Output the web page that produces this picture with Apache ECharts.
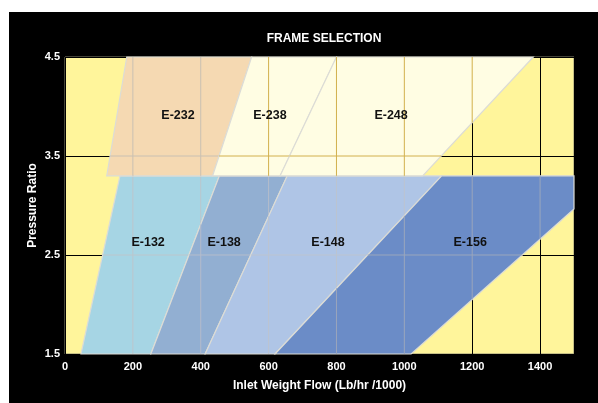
<!DOCTYPE html>
<html>
<head>
<meta charset="utf-8">
<script src="https://cdn.jsdelivr.net/npm/echarts@6/dist/echarts.min.js"></script>
<style>
html,body{margin:0;padding:0;background:#fff;width:598px;height:403px;overflow:hidden;}
#chart{position:absolute;left:9px;top:12px;width:589px;height:391px;}
</style>
</head>
<body>
<div id="chart"></div>
<script>
// ---- data ----
const frameNames = ['E-132', 'E-138', 'E-148', 'E-156', 'E-232', 'E-238', 'E-248'];
const e132 = [[47, 1.5], [253, 1.5], [455, 3.3], [162, 3.3]];
const e138 = [[253, 1.5], [413, 1.5], [655, 3.3], [455, 3.3]];
const e148 = [[413, 1.5], [619, 1.5], [1110, 3.3], [655, 3.3]];
const e156 = [[619, 1.5], [1020, 1.5], [1500, 2.965], [1500, 3.3], [1110, 3.3]];
const e232 = [[123, 3.3], [435, 3.3], [550, 4.5], [182, 4.5]];
const e238 = [[435, 3.3], [634, 3.3], [800, 4.5], [550, 4.5]];
const e248 = [[634, 3.3], [1054, 3.3], [1380, 4.5], [800, 4.5]];
const framePolys = [e132, e138, e148, e156, e232, e238, e248];
const labelX = [245, 469, 775, 1194, 333, 604, 961];
const labelY = [2.63, 2.63, 2.63, 2.63, 3.91, 3.91, 3.91];
const xGrid = [200, 400, 600, 800, 1000, 1200, 1400];
const yGrid = [2.5, 3.5];

// ---- styles ----
const fillColors = ['#A6D5E4', '#92AFD2', '#AFC5E6', '#6B8CC7', '#F5D9B2', '#FFFDE3', '#FFFDE3'];
const innerGridColors = ['#bcc6cc', '#b4bccb', '#bcc4d0', '#9aa6bc', '#c9c0b2', '#d2b04c', '#d2b04c'];

function segVertical(poly, c) {
  const ys = [];
  for (let i = 0; i < poly.length; i++) {
    const p = poly[i], q = poly[(i + 1) % poly.length];
    if (p[0] === q[0]) continue;
    if ((p[0] - c) * (q[0] - c) <= 0) {
      ys.push(p[1] + (c - p[0]) * (q[1] - p[1]) / (q[0] - p[0]));
    }
  }
  if (ys.length < 2) return null;
  const a = Math.min.apply(null, ys), b = Math.max.apply(null, ys);
  if (b - a < 1e-9) return null;
  return [[c, a], [c, b]];
}
function segHorizontal(poly, c) {
  const xs = [];
  for (let i = 0; i < poly.length; i++) {
    const p = poly[i], q = poly[(i + 1) % poly.length];
    if (p[1] === q[1]) continue;
    if ((p[1] - c) * (q[1] - c) <= 0) {
      xs.push(p[0] + (c - p[1]) * (q[0] - p[0]) / (q[1] - p[1]));
    }
  }
  if (xs.length < 2) return null;
  const a = Math.min.apply(null, xs), b = Math.max.apply(null, xs);
  if (b - a < 1e-9) return null;
  return [[a, c], [b, c]];
}

const chart = echarts.init(document.getElementById('chart'));
const lab = {color: '#fff', fontFamily: 'Arial, Liberation Sans', fontWeight: 'bold', fontSize: 11};
const nameStyle = {color: '#fff', fontFamily: 'Arial, Liberation Sans', fontWeight: 'bold', fontSize: 12};

chart.setOption({
  backgroundColor: '#000',
  animation: false,
  title: {
    text: 'FRAME SELECTION', left: 310, top: 16, textAlign: 'center',
    textStyle: nameStyle
  },
  grid: {
    left: 56, right: 24, top: 45, bottom: 49,
    show: true, backgroundColor: '#FFF59B', borderColor: '#8a8870', borderWidth: 1
  },
  xAxis: {
    type: 'value', min: 0, max: 1500, interval: 200,
    axisLine: {show: false}, axisTick: {show: false},
    axisLabel: Object.assign({margin: 7, showMaxLabel: false, formatter: function (v) { return String(v); }}, lab),
    splitLine: {show: true, lineStyle: {color: '#000', width: 1}},
    name: 'Inlet Weight Flow (Lb/hr /1000)', nameLocation: 'middle', nameGap: 26,
    nameTextStyle: nameStyle
  },
  yAxis: {
    type: 'value', min: 1.5, max: 4.5, interval: 0.5,
    axisLine: {show: false}, axisTick: {show: false},
    axisLabel: Object.assign({
      margin: 5,
      formatter: function (v) { return Math.abs((v * 2) % 2 - 1) < 1e-6 ? v.toFixed(1) : ''; }
    }, lab),
    splitLine: {show: true, lineStyle: {color: ['#000', 'rgba(0,0,0,0)'], width: 1}},
    name: 'Pressure Ratio', nameLocation: 'middle', nameGap: 26, nameRotate: 90,
    nameMoveOverlap: false,
    nameTextStyle: nameStyle
  },
  series: [{
    type: 'custom',
    coordinateSystem: 'cartesian2d',
    data: frameNames.map(function (n, i) { return [labelX[i], labelY[i], i]; }),
    renderItem: function (params, api) {
      const i = params.dataIndex;
      const poly = framePolys[i];
      const children = [];
      children.push({
        type: 'polygon',
        shape: {points: poly.map(function (p) { return api.coord(p); })},
        style: {fill: fillColors[i], stroke: '#dcdcd6', lineWidth: 1.2}
      });
      xGrid.forEach(function (c) {
        const s = segVertical(poly, c);
        if (s) {
          const a = api.coord(s[0]), b = api.coord(s[1]);
          children.push({type: 'line', shape: {x1: a[0], y1: a[1], x2: b[0], y2: b[1]},
            style: {stroke: innerGridColors[i], lineWidth: 1}});
        }
      });
      yGrid.forEach(function (c) {
        const s = segHorizontal(poly, c);
        if (s) {
          const a = api.coord(s[0]), b = api.coord(s[1]);
          children.push({type: 'line', shape: {x1: a[0], y1: a[1], x2: b[0], y2: b[1]},
            style: {stroke: innerGridColors[i], lineWidth: 1}});
        }
      });
      const lp = api.coord([api.value(0), api.value(1)]);
      children.push({
        type: 'text', z2: 10,
        style: {text: frameNames[i], x: lp[0], y: lp[1], textAlign: 'center', textVerticalAlign: 'middle',
          fill: '#111', font: 'bold 12.5px Arial, "Liberation Sans"'}
      });
      return {type: 'group', children: children};
    }
  }]
});
</script>
</body>
</html>
